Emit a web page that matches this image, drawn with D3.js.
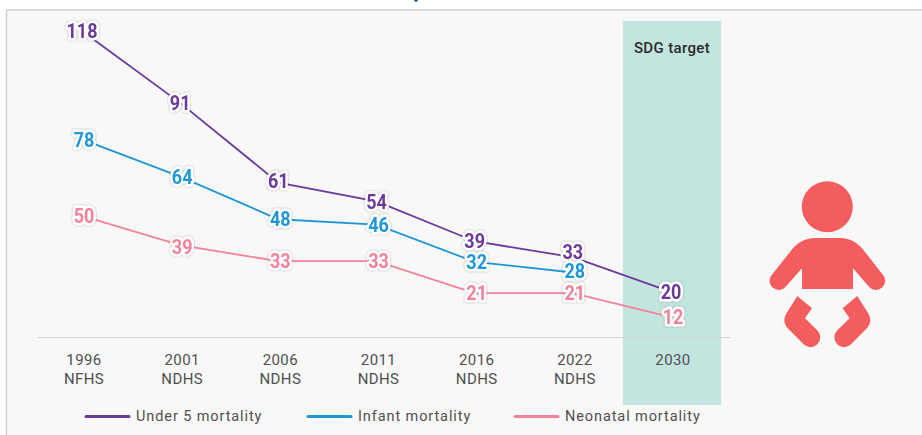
<!DOCTYPE html>
<html>
<head>
<meta charset="utf-8">
<script src="https://cdnjs.cloudflare.com/ajax/libs/d3/7.8.5/d3.min.js"></script>
<style>
  html, body { margin: 0; padding: 0; background: #fff; overflow: hidden; }
  text { font-family: Roboto, "Noto Sans", sans-serif; }
</style>
</head>
<body>
<div class="wrapper"></div>
<script>
const w = 922
const h = 435

const years = ["1996", "2001", "2006", "2011", "2016", "2022", "2030"]
const surveys = ["NFHS", "NDHS", "NDHS", "NDHS", "NDHS", "NDHS", ""]
const under5 = [118, 91, 61, 54, 39, 33, 20]
const infant = [78, 64, 48, 46, 32, 28, null]
const neonatal = [50, 39, 33, 33, 21, 21, 12]
const seriesNames = ["Under 5 mortality", "Infant mortality", "Neonatal mortality"]
const seriesValues = [under5, infant, neonatal]
const seriesColors = ["#6a3a9c", "#1f97d6", "#f5829b"]
const seriesNudge = [-2, 0, 2]
const labelShiftX = [0, 2, 2]
const legendX = [86, 308, 515]
// labels lifted off the line where they would collide, as in the original
const labelLift = { "0-2022": 5, "1-2022": 2, "0-2006": 2, "2-2001": -2 }

const xScale = d3.scalePoint().domain(years).range([82, 671])
const yScale = d3.scaleLinear().domain([0, 118]).range([347, 33])

const svg = d3.select(".wrapper")
  .append("svg")
  .attr("width", w)
  .attr("height", h)
  .style("display", "block")

// clipped bit of the title above the panel
svg.append("circle").attr("cx", 416).attr("cy", 0).attr("r", 2).attr("fill", "#1f6fb5")

// panel
svg.append("rect").attr("x", 6.5).attr("y", 10).attr("width", w).attr("height", h)
  .attr("fill", "#f8f8f8").attr("stroke", "#cfcfcf").attr("stroke-width", 1.5)

// SDG band
const step = xScale.step()
svg.append("rect")
  .attr("x", xScale("2030") - step / 2 + 1)
  .attr("y", 21)
  .attr("width", step)
  .attr("height", 384)
  .attr("fill", "#c3e5df")

svg.append("text")
  .attr("x", xScale("2030") + 1)
  .attr("y", 53)
  .attr("text-anchor", "middle")
  .attr("font-size", 15)
  .attr("font-weight", 500)
  .attr("letter-spacing", 0.35)
  .attr("fill", "#2b2b2b")
  .text("SDG target")

// baseline
svg.append("line").attr("x1", 38).attr("x2", 730).attr("y1", 337.5).attr("y2", 337.5)
  .attr("stroke", "#d2d2d2").attr("stroke-width", 1.2)

// x labels
const tick = svg.selectAll(".tick-label").data(years).enter().append("g")
  .attr("class", "tick-label")
  .attr("transform", (d) => "translate(" + (xScale(d) + 2) + ",0)")
tick.append("text")
  .attr("y", 365).attr("text-anchor", "middle").attr("font-size", 15).attr("letter-spacing", 0.4)
  .attr("fill", "#505050")
  .text((d) => d)
tick.append("text")
  .attr("y", 384).attr("text-anchor", "middle").attr("font-size", 15).attr("letter-spacing", 0.4)
  .attr("fill", "#505050")
  .text((d, i) => surveys[i])

// lines
seriesValues.forEach((vals, s) => {
  const pts = years.map((y, i) => ({ y: y, v: vals[i] })).filter((d) => d.v !== null)
  const line = d3.line().x((d) => xScale(d.y)).y((d) => yScale(d.v) + seriesNudge[s])
  svg.append("path")
    .attr("d", line(pts))
    .attr("fill", "none")
    .attr("stroke", seriesColors[s])
    .attr("stroke-width", 1.8)
})

// value labels on top of every line, squeezed to look like the narrow original face
seriesValues.forEach((vals, s) => {
  const pts = years.map((y, i) => ({ y: y, v: vals[i] })).filter((d) => d.v !== null)
  svg.selectAll(".val" + s).data(pts).enter().append("text")
    .attr("class", "val" + s)
    .attr("transform", (d) => "translate(" + (xScale(d.y) + labelShiftX[s]) + "," + (yScale(d.v) + seriesNudge[s] - (labelLift[s + "-" + d.y] || 0)) + ") scale(0.9,1)")
    .attr("dy", "0.36em")
    .attr("text-anchor", "middle")
    .attr("font-size", 20)
    .attr("font-weight", 700)
    .attr("fill", seriesColors[s])
    .attr("stroke", "#fff")
    .attr("stroke-width", 5.5)
    .attr("stroke-linejoin", "round")
    .attr("paint-order", "stroke")
    .style("filter", "drop-shadow(0 0 1px rgba(0,0,0,0.25))")
    .text((d) => d.v)
})

// legend
seriesNames.forEach((name, s) => {
  svg.append("line")
    .attr("x1", legendX[s]).attr("x2", legendX[s] + 43)
    .attr("y1", 416.5).attr("y2", 416.5)
    .attr("stroke", seriesColors[s]).attr("stroke-width", 3).attr("stroke-linecap", "round")
  svg.append("text")
    .attr("x", legendX[s] + 50).attr("y", 421)
    .attr("font-size", 14.5).attr("letter-spacing", 0.9).attr("fill", "#505050")
    .text(name)
})

// baby icon
const baby = svg.append("g").attr("fill", "#f45d5e")
baby.append("circle").attr("cx", 827.3).attr("cy", 206.7).attr("r", 25.5)
baby.append("path").attr("d", "M802,289V268.3L785.7,286.7A8.8,8.8 0 0 1 771.7,275L790,252Q800,238 815,238H840Q855,238 865,252L883,275A8.8,8.8 0 0 1 869,286.7L853,268.3V289Z")
const leg = "M797.3,296L812,308.3L805,318.3L817.7,330.7A9,9 0 0 1 803.3,344L787,327.5Q782,321 786,314Z"
baby.append("path").attr("d", leg)
baby.append("path").attr("d", leg).attr("transform", "translate(1654.6,0) scale(-1,1)")
</script>
</body>
</html>
